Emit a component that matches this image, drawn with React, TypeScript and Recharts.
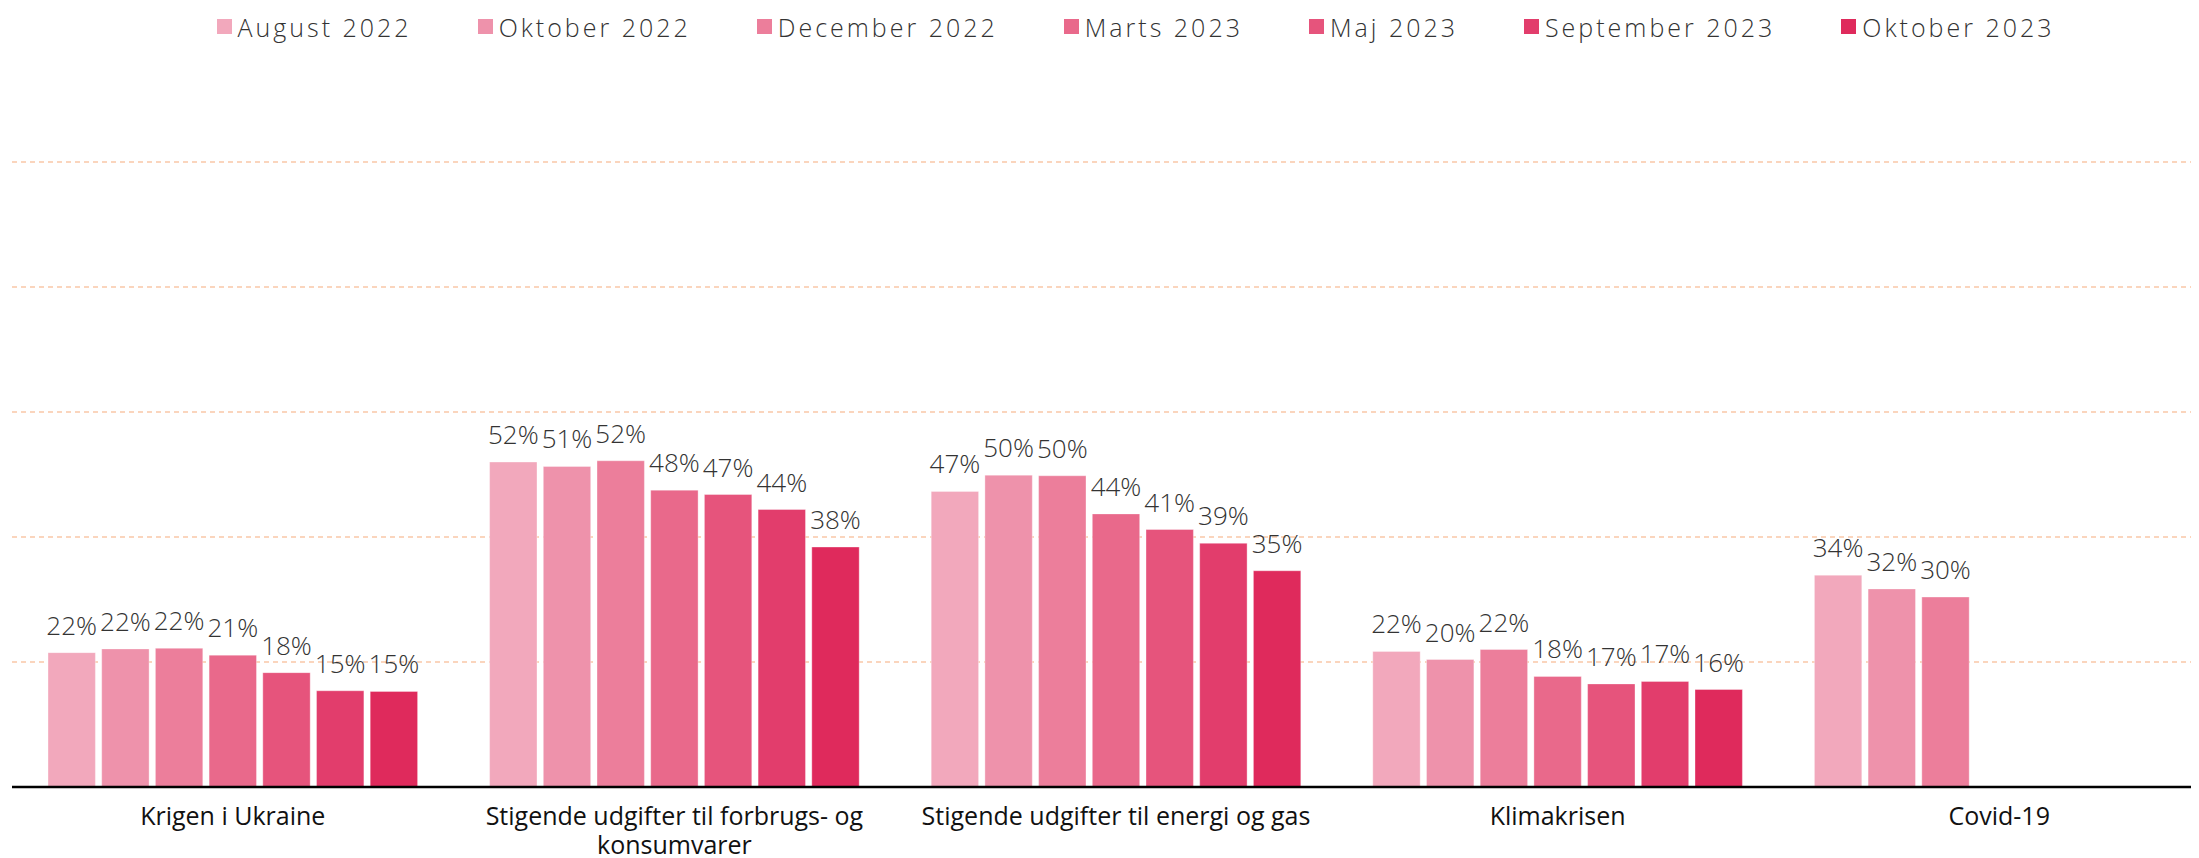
import React from "react";
import { BarChart, Bar, XAxis, YAxis, CartesianGrid, Legend, LabelList } from "recharts";

const categories = [
  "Krigen i Ukraine",
  "Stigende udgifter til forbrugs- og konsumvarer",
  "Stigende udgifter til energi og gas",
  "Klimakrisen",
  "Covid-19",
];

const aug2022 = [21.5, 52.0, 47.3, 21.7, 33.9];
const okt2022 = [22.1, 51.3, 49.9, 20.4, 31.7];
const dec2022 = [22.2, 52.2, 49.8, 22.0, 30.4];
const mar2023 = [21.1, 47.5, 43.7, 17.7, null];
const maj2023 = [18.3, 46.8, 41.2, 16.5, null];
const sep2023 = [15.4, 44.4, 39.0, 16.9, null];
const okt2023 = [15.3, 38.4, 34.6, 15.6, null];

const seriesNames = [
  "August 2022",
  "Oktober 2022",
  "December 2022",
  "Marts 2023",
  "Maj 2023",
  "September 2023",
  "Oktober 2023",
];
const seriesValues = [aug2022, okt2022, dec2022, mar2023, maj2023, sep2023, okt2023];
const seriesColors = ["#F2A8BC", "#EE92AB", "#EC7E9B", "#E9698B", "#E6547C", "#E23D6C", "#DF2A5C"];

const yTicks = [0, 20, 40, 60, 80, 100];

const data = categories.map((name, i) => {
  const row: Record<string, string | number | null> = { name };
  seriesNames.forEach((s, j) => {
    row[s] = seriesValues[j][i];
  });
  return row;
});

const FONT = "'Open Sans', 'Noto Sans', sans-serif";

const fmtPct = (v: unknown) => (v == null ? "" : `${Math.round(Number(v))}%`);

// wrap long category names on word boundaries
const wrapWords = (s: string, maxChars = 36) => {
  const lines: string[] = [];
  let cur = "";
  s.split(" ").forEach((w) => {
    const next = cur ? `${cur} ${w}` : w;
    if (next.length > maxChars && cur) {
      lines.push(cur);
      cur = w;
    } else {
      cur = next;
    }
  });
  if (cur) lines.push(cur);
  return lines;
};

function CategoryTick(props: any) {
  const { x, y, payload } = props;
  const lines = wrapWords(String(payload.value));
  return (
    <text x={x} y={y + 38} textAnchor="middle" fill="#111" fontSize={25} fontFamily={FONT}>
      {lines.map((l, i) => (
        <tspan key={i} x={x} dy={i === 0 ? 0 : 29}>
          {l}
        </tspan>
      ))}
    </text>
  );
}

function LegendRow() {
  return (
    <div
      style={{
        display: "flex",
        justifyContent: "center",
        alignItems: "center",
        height: 40,
        paddingBottom: 3,
        boxSizing: "border-box",
        fontFamily: FONT,
        fontWeight: 300,
        fontSize: 25,
        letterSpacing: 3,
        color: "#333",
        whiteSpace: "nowrap",
      }}
    >
      {seriesNames.map((s, i) => (
        <div key={s} style={{ display: "flex", alignItems: "center", marginLeft: i === 0 ? 0 : 66 }}>
          <span style={{ width: 15, height: 15, background: seriesColors[i], marginRight: 6, display: "inline-block" }} />
          <span>{s}</span>
        </div>
      ))}
    </div>
  );
}

export default function App() {
  return (
    <div style={{ width: 2191, height: 850, overflow: "hidden", position: "relative" }}>
      <BarChart
        width={2260}
        height={850}
        data={data}
        margin={{ top: 114, right: 48, left: 4, bottom: 0 }}
        barSize={47.4}
        barGap={6.3}
      >
        <XAxis
          dataKey="name"
          axisLine={{ stroke: "#000", strokeWidth: 2.4 }}
          tickLine={false}
          tickSize={0}
          tickMargin={0}
          height={71}
          interval={0}
          tick={<CategoryTick />}
        />
        <YAxis hide domain={[0, 100]} ticks={yTicks} />
        <Legend
          verticalAlign="top"
          content={() => <LegendRow />}
          wrapperStyle={{ left: 0, top: 0, width: 2255, height: 40 }}
        />
        {seriesNames.map((s, i) => (
          <Bar
            key={s}
            dataKey={s}
            name={s}
            fill={seriesColors[i]}
            stroke="#ffffff"
            strokeOpacity={0.35}
            strokeWidth={1}
            isAnimationActive={false}
          >
            <LabelList
              dataKey={s}
              position="top"
              offset={18}
              formatter={fmtPct}
              style={{ fontFamily: FONT, fontWeight: 300, fontSize: 26, fill: "#333" }}
            />
          </Bar>
        ))}
        <CartesianGrid
          vertical={false}
          stroke="#F4965A"
          strokeOpacity={0.8}
          strokeDasharray="5 4"
        />
      </BarChart>
    </div>
  );
}
